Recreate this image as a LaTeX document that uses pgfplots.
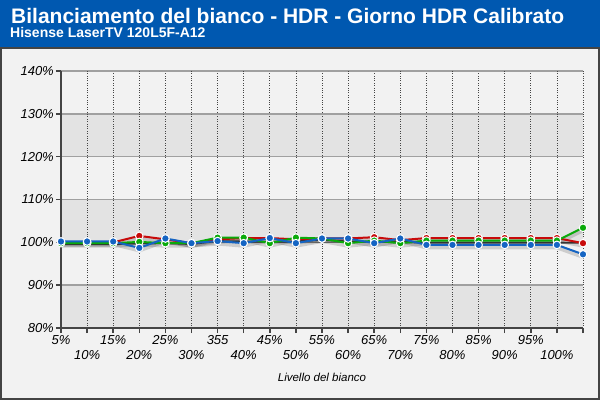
\documentclass[border=0pt]{standalone}
\usepackage{fontspec}
\setmainfont{Liberation Sans}
\usepackage{pgfplots}
\pgfplotsset{compat=1.18}
\definecolor{titleblue}{RGB}{0,88,176}
\definecolor{panel}{RGB}{242,242,242}
\definecolor{band}{RGB}{227,227,227}
\definecolor{gridgray}{RGB}{160,160,160}
\definecolor{axisdark}{RGB}{68,68,68}
\definecolor{redc}{RGB}{200,10,10}
\definecolor{greenc}{RGB}{10,170,10}
\definecolor{bluec}{RGB}{20,100,195}
\begin{document}
\begin{tikzpicture}[x=1pt,y=1pt]
\path[use as bounding box] (0,0) rectangle (600,400);
\fill[panel] (0,0) rectangle (600,353);
\draw[axisdark, line width=2pt] (1,1) rectangle (599,352);
\fill[titleblue] (0,353) rectangle (600,400);
\node[anchor=base west, inner sep=0, text=white, font=\bfseries\fontsize{21}{25}\selectfont] at (11,376.5) {Bilanciamento del bianco - HDR - Giorno HDR Calibrato};
\node[anchor=base west, inner sep=0, text=white, font=\bfseries\fontsize{14}{16}\selectfont] at (10,362.5) {Hisense LaserTV 120L5F-A12};
\fill[band] (61,72) rectangle (583,114.83);
\fill[band] (61,157.67) rectangle (583,200.5);
\fill[band] (61,243.33) rectangle (583,286.17);
\begin{axis}[
  at={(61pt,72pt)}, anchor=south west,
  scale only axis, width=522pt, height=257pt,
  xmin=0, xmax=20, ymin=80, ymax=140,
  ytick={80,90,...,140},
  yticklabel={\pgfmathprintnumber{\tick}\%},
  /pgf/number format/assume math mode=true,
  yticklabel style={font=\itshape\fontsize{13}{15}\selectfont, inner sep=2pt},
  xtick={0,2,...,20},
  xticklabels={5\%,15\%,25\%,355,45\%,55\%,65\%,75\%,85\%,95\%,{}},
  extra x ticks={1,3,...,19},
  extra x tick labels={10\%,20\%,30\%,40\%,50\%,60\%,70\%,80\%,90\%,100\%},
  extra x tick style={xticklabel style={yshift=-15pt}},
  xticklabel style={font=\itshape\fontsize{13}{15}\selectfont, inner sep=2pt},
  axis x line*=bottom, axis y line*=left,
  axis line style={axisdark, line width=2.5pt},
  tick style={axisdark, line width=1.5pt},
  major tick length=5pt, tick align=outside,
  xmajorgrids, ymajorgrids,
  major x grid style={axisdark, dotted, line width=0.8pt},
  major y grid style={gridgray, solid, line width=1.5pt},
  clip=false,
]
\addplot[black, opacity=0.15, line width=4pt, no marks, yshift=-2.5pt] coordinates {(0,100.0)(1,100.0)(2,100.0)(3,101.5)(4,100.7)(5,99.8)(6,100.7)(7,101.0)(8,101.0)(9,100.7)(10,100.9)(11,100.9)(12,101.2)(13,100.5)(14,101.0)(15,101.0)(16,101.0)(17,101.0)(18,101.0)(19,101.0)(20,99.8)};
\addplot[black, opacity=0.15, line width=4pt, no marks, yshift=-2.5pt] coordinates {(0,99.8)(1,99.8)(2,99.8)(3,100.1)(4,99.8)(5,99.8)(6,101.1)(7,101.1)(8,99.8)(9,101.1)(10,100.9)(11,99.8)(12,100.4)(13,99.8)(14,100.4)(15,100.4)(16,100.4)(17,100.4)(18,100.4)(19,100.4)(20,103.4)};
\addplot[black, opacity=0.15, line width=4pt, no marks, yshift=-2.5pt] coordinates {(0,100.2)(1,100.2)(2,100.2)(3,98.7)(4,100.9)(5,99.8)(6,100.3)(7,99.8)(8,101.0)(9,99.8)(10,100.9)(11,100.9)(12,99.8)(13,100.9)(14,99.4)(15,99.4)(16,99.4)(17,99.4)(18,99.4)(19,99.4)(20,97.2)};
\addplot[black!80, line width=1.8pt, no marks] coordinates {(0,99.6)(1,99.6)(2,99.6)(3,99.7)(4,99.8)(5,99.6)(6,100.3)(7,100.2)(8,100.1)(9,100.2)(10,100.6)(11,100.2)(12,100.1)(13,100.1)(14,99.9)(15,99.9)(16,99.9)(17,99.9)(18,99.9)(19,99.9)(20,99.9)};
\addplot[redc, line width=2pt, mark=*, mark size=3.8pt, mark options={fill=redc, draw=white, line width=1pt}] coordinates {(0,100.0)(1,100.0)(2,100.0)(3,101.5)(4,100.7)(5,99.8)(6,100.7)(7,101.0)(8,101.0)(9,100.7)(10,100.9)(11,100.9)(12,101.2)(13,100.5)(14,101.0)(15,101.0)(16,101.0)(17,101.0)(18,101.0)(19,101.0)(20,99.8)};
\addplot[greenc, line width=2pt, mark=*, mark size=3.8pt, mark options={fill=greenc, draw=white, line width=1pt}] coordinates {(0,99.8)(1,99.8)(2,99.8)(3,100.1)(4,99.8)(5,99.8)(6,101.1)(7,101.1)(8,99.8)(9,101.1)(10,100.9)(11,99.8)(12,100.4)(13,99.8)(14,100.4)(15,100.4)(16,100.4)(17,100.4)(18,100.4)(19,100.4)(20,103.4)};
\addplot[bluec, line width=2pt, mark=*, mark size=3.8pt, mark options={fill=bluec, draw=white, line width=1pt}] coordinates {(0,100.2)(1,100.2)(2,100.2)(3,98.7)(4,100.9)(5,99.8)(6,100.3)(7,99.8)(8,101.0)(9,99.8)(10,100.9)(11,100.9)(12,99.8)(13,100.9)(14,99.4)(15,99.4)(16,99.4)(17,99.4)(18,99.4)(19,99.4)(20,97.2)};
\end{axis}
\node[font=\itshape\fontsize{11.5}{13}\selectfont] at (322,23) {Livello del bianco};
\end{tikzpicture}
\end{document}
